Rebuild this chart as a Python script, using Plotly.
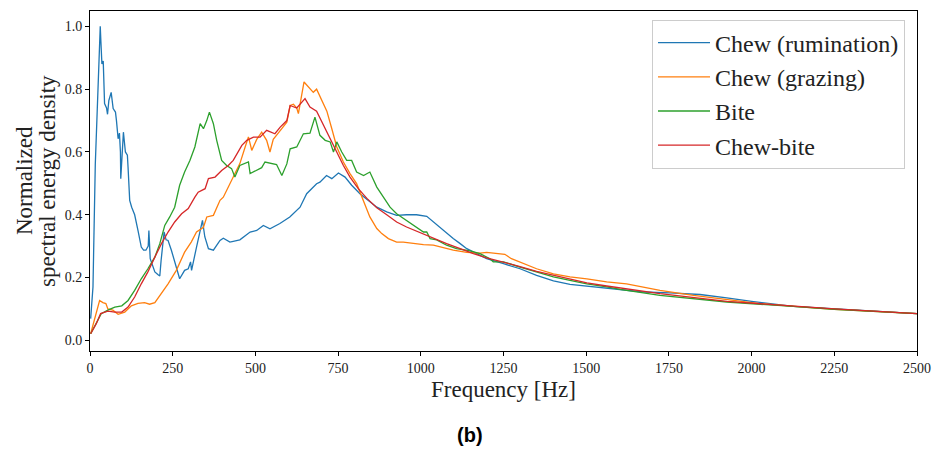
import plotly.graph_objects as go

# ---- data ----
rum_f = [2, 9, 16, 31, 33, 36, 40, 44, 50, 53, 57, 64, 70, 77, 80, 85, 89, 92, 93, 96, 101, 107, 113, 115, 120, 126,
         135, 145, 155, 162, 169, 176, 178, 182, 196, 205, 211, 215, 224, 230, 236, 246, 258, 271, 286, 297, 304, 307,
         322, 340, 347, 358, 373, 393, 403, 423, 453, 484, 504, 524, 544, 574, 604, 635, 655, 685, 695, 715, 731, 751,
         771, 791, 816, 842, 867, 897, 927, 957, 987, 1018, 1038, 1058, 1078, 1098, 1119, 1139, 1169, 1199, 1250,
         1300, 1350, 1401, 1451, 1502, 1562, 1673, 1753, 1844, 1925, 2000, 2126, 2252, 2378, 2500]
rum_v = [0.069, 0.17, 0.56, 1.0, 0.95, 0.88, 0.89, 0.754, 0.74, 0.72, 0.764, 0.79, 0.738, 0.727, 0.70, 0.642, 0.66,
         0.60, 0.515, 0.56, 0.663, 0.60, 0.59, 0.552, 0.446, 0.424, 0.40, 0.35, 0.297, 0.287, 0.287, 0.30, 0.35, 0.26,
         0.218, 0.21, 0.205, 0.255, 0.345, 0.32, 0.318, 0.287, 0.244, 0.196, 0.223, 0.228, 0.25, 0.223, 0.297, 0.382,
         0.33, 0.292, 0.287, 0.318, 0.325, 0.313, 0.32, 0.345, 0.35, 0.366, 0.355, 0.372, 0.393, 0.424, 0.467, 0.499,
         0.504, 0.525, 0.515, 0.533, 0.52, 0.494, 0.467, 0.446, 0.424, 0.409, 0.398, 0.40, 0.40, 0.395, 0.377, 0.361,
         0.34, 0.324, 0.308, 0.292, 0.276, 0.26, 0.244, 0.228, 0.207, 0.189, 0.178, 0.172, 0.165, 0.154, 0.151,
         0.146, 0.135, 0.124, 0.108, 0.101, 0.092, 0.085]

gra_f = [2, 19, 29, 39, 48, 54, 69, 85, 105, 125, 145, 165, 180, 196, 211, 236, 261, 286, 306, 322, 343, 353, 373,
         393, 403, 423, 433, 453, 469, 479, 489, 504, 519, 534, 544, 554, 569, 595, 605, 615, 625, 630, 647, 665, 675,
         685, 700, 716, 731, 746, 766, 786, 806, 827, 846, 867, 882, 902, 927, 947, 977, 1008, 1038, 1058, 1098, 1139,
         1179, 1199, 1229, 1254, 1274, 1300, 1350, 1401, 1451, 1502, 1562, 1622, 1723, 1824, 1925, 2025, 2177, 2250,
         2500]
gra_v = [0.021, 0.09, 0.127, 0.12, 0.117, 0.10, 0.096, 0.083, 0.09, 0.11, 0.118, 0.12, 0.115, 0.12, 0.143, 0.18,
         0.223, 0.281, 0.313, 0.345, 0.36, 0.393, 0.398, 0.446, 0.456, 0.499, 0.52, 0.563, 0.616, 0.648, 0.605, 0.64,
         0.663, 0.637, 0.60, 0.64, 0.66, 0.695, 0.748, 0.752, 0.74, 0.722, 0.823, 0.80, 0.79, 0.80, 0.764, 0.73,
         0.674, 0.616, 0.568, 0.531, 0.499, 0.446, 0.393, 0.356, 0.34, 0.324, 0.313, 0.313, 0.308, 0.305, 0.303,
         0.297, 0.287, 0.28, 0.278, 0.28, 0.276, 0.274, 0.26, 0.249, 0.228, 0.212, 0.202, 0.196, 0.186, 0.18, 0.159,
         0.143, 0.13, 0.117, 0.104, 0.099, 0.085]

bite_f = [2, 19, 34, 54, 75, 96, 115, 135, 155, 175, 196, 211, 226, 241, 256, 271, 286, 302, 317, 333, 343, 353, 361,
          373, 383, 398, 413, 428, 438, 453, 479, 484, 504, 519, 529, 549, 564, 580, 595, 605, 625, 645, 665, 680, 695,
          711, 726, 736, 746, 761, 776, 791, 806, 827, 846, 867, 887, 907, 927, 957, 978, 1008, 1018, 1028, 1048,
          1078, 1108, 1149, 1179, 1209, 1219, 1250, 1300, 1350, 1401, 1451, 1502, 1562, 1602, 1723, 1925, 2126, 2250,
          2500]
bite_v = [0.021, 0.053, 0.085, 0.096, 0.106, 0.11, 0.127, 0.159, 0.196, 0.228, 0.265, 0.308, 0.366, 0.393, 0.424,
          0.494, 0.536, 0.573, 0.616, 0.69, 0.674, 0.70, 0.727, 0.69, 0.637, 0.573, 0.557, 0.547, 0.52, 0.557, 0.568,
          0.531, 0.541, 0.55, 0.568, 0.562, 0.56, 0.525, 0.562, 0.61, 0.616, 0.658, 0.66, 0.711, 0.653, 0.637, 0.632,
          0.60, 0.632, 0.60, 0.573, 0.573, 0.536, 0.525, 0.536, 0.488, 0.456, 0.424, 0.403, 0.382, 0.366, 0.345,
          0.345, 0.324, 0.32, 0.303, 0.292, 0.285, 0.276, 0.26, 0.25, 0.25, 0.233, 0.218, 0.202, 0.191, 0.18, 0.17,
          0.162, 0.143, 0.122, 0.108, 0.099, 0.085]

cb_f = [2, 19, 32, 54, 75, 96, 115, 135, 155, 175, 196, 216, 236, 256, 277, 297, 317, 327, 348, 358, 378, 398, 418,
        433, 459, 474, 494, 514, 534, 559, 575, 595, 605, 625, 650, 665, 685, 706, 726, 746, 766, 786, 811, 837, 867,
        897, 927, 957, 998, 1038, 1078, 1119, 1159, 1199, 1250, 1300, 1350, 1401, 1451, 1502, 1562, 1602, 1723, 1925,
        2126, 2250, 2500]
cb_v = [0.021, 0.053, 0.085, 0.093, 0.09, 0.09, 0.106, 0.138, 0.18, 0.218, 0.265, 0.308, 0.345, 0.377, 0.403, 0.42,
        0.456, 0.472, 0.483, 0.515, 0.52, 0.541, 0.557, 0.573, 0.621, 0.637, 0.647, 0.647, 0.669, 0.658, 0.679, 0.70,
        0.748, 0.74, 0.77, 0.743, 0.73, 0.685, 0.645, 0.60, 0.557, 0.52, 0.483, 0.452, 0.422, 0.40, 0.377, 0.361,
        0.343, 0.324, 0.308, 0.292, 0.276, 0.263, 0.25, 0.235, 0.22, 0.207, 0.194, 0.183, 0.173, 0.167, 0.149, 0.124,
        0.108, 0.10, 0.085]

series_names = ["Chew (rumination)", "Chew (grazing)", "Bite", "Chew-bite"]
series_colors = ["#1f77b4", "#ff7f0e", "#2ca02c", "#d62728"]
x_ticks = [0, 250, 500, 750, 1000, 1250, 1500, 1750, 2000, 2250, 2500]
y_ticks = [0.0, 0.2, 0.4, 0.6, 0.8, 1.0]

SERIF = "Liberation Serif"

fig = go.Figure()
for name, color, fx, fv in zip(series_names, series_colors,
                               [rum_f, gra_f, bite_f, cb_f], [rum_v, gra_v, bite_v, cb_v]):
    fig.add_trace(go.Scatter(x=fx, y=fv, mode="lines", name=name,
                             line=dict(color=color, width=1.3)))

axis_common = dict(showline=True, linecolor="black", linewidth=1, mirror=True,
                   ticks="outside", ticklen=4, tickwidth=1, tickcolor="black",
                   showgrid=False, zeroline=False, automargin=False,
                   tickfont=dict(family=SERIF, size=14, color="#222"))

fig.update_layout(
    width=934, height=449,
    margin=dict(l=90, r=17, t=11, b=98),
    plot_bgcolor="white", paper_bgcolor="white",
    xaxis=dict(range=[0, 2500], tickvals=x_ticks, **axis_common),
    yaxis=dict(range=[-0.034, 1.049], tickvals=y_ticks, tickformat=".1f", **axis_common),
    legend=dict(x=0.9855, xanchor="right", y=0.975, yanchor="top",
                bgcolor="rgba(255,255,255,0.85)", bordercolor="#cccccc", borderwidth=1,
                font=dict(family=SERIF, size=24, color="#222"),
                itemwidth=52, tracegroupgap=0),
    showlegend=True,
)

fig.add_annotation(text="Frequency [Hz]", xref="paper", yref="paper", x=0.5, y=-0.112,
                   xanchor="center", yanchor="middle", showarrow=False,
                   font=dict(family=SERIF, size=23, color="#222"))
fig.add_annotation(text="Normalized", xref="paper", yref="paper", x=(24 - 90) / 827, y=0.5,
                   xanchor="center", yanchor="middle", showarrow=False, textangle=-90,
                   font=dict(family=SERIF, size=23, color="#222"))
fig.add_annotation(text="spectral energy density", xref="paper", yref="paper", x=(47 - 90) / 827, y=0.5,
                   xanchor="center", yanchor="middle", showarrow=False, textangle=-90,
                   font=dict(family=SERIF, size=23, color="#222"))
fig.add_annotation(text="<b>(b)</b>", xref="paper", yref="paper", x=(470 - 90) / 827, y=-(435 - 351) / 340,
                   xanchor="center", yanchor="middle", showarrow=False,
                   font=dict(family="Liberation Sans", size=20, color="black"))

fig.write_html("out.html")
